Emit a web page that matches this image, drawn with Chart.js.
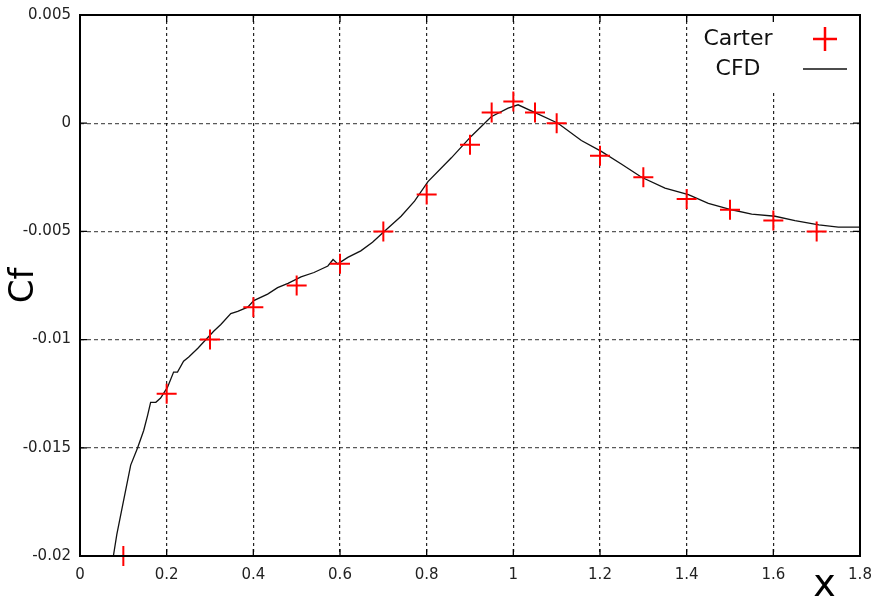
<!DOCTYPE html>
<html lang="en">
<head>
    <meta charset="UTF-8">
    <title>Cf vs x</title>
    <script src="https://cdn.jsdelivr.net/npm/chart.js"></script>
    <style>
        html, body { margin: 0; padding: 0; background: #fff; }
        #wrap { width: 879px; height: 596px; }
    </style>
</head>
<body>
    <div id="wrap"><canvas id="cfChart" width="879" height="596"></canvas></div>

    <script>
        // tick labels
        const xTicks = [0, 0.2, 0.4, 0.6, 0.8, 1, 1.2, 1.4, 1.6, 1.8];
        const yTicks = [0.005, 0, -0.005, -0.01, -0.015, -0.02];

        // Carter (experiment)
        const carterX = [0.1, 0.2, 0.3, 0.4, 0.5, 0.6, 0.7, 0.8, 0.9, 0.95, 1.0, 1.05, 1.1, 1.2, 1.3, 1.4, 1.5, 1.6, 1.7];
        const carterY = [-0.02, -0.0125, -0.01, -0.0085, -0.0075, -0.0065, -0.005, -0.0033, -0.001, 0.0005, 0.001, 0.0005, 0, -0.0015, -0.0025, -0.0035, -0.004, -0.0045, -0.005];

        // CFD curve
        const cfdX = [0.077, 0.085, 0.098, 0.117, 0.133, 0.147, 0.156, 0.163, 0.175, 0.186, 0.202, 0.216, 0.225, 0.239, 0.251,
                      0.272, 0.295, 0.309, 0.325, 0.348, 0.364, 0.387, 0.401, 0.433, 0.456, 0.480, 0.510, 0.540, 0.572, 0.584,
                      0.595, 0.618, 0.648, 0.675, 0.702, 0.741, 0.772, 0.803, 0.857, 0.903, 0.949, 0.988, 1.011, 1.049, 1.103,
                      1.157, 1.203, 1.25, 1.296, 1.35, 1.404, 1.45, 1.504, 1.55, 1.604, 1.65, 1.705, 1.75, 1.8];
        const cfdY = [-0.0200, -0.0190, -0.0177, -0.0158, -0.0150, -0.0142, -0.0135, -0.0129, -0.0129, -0.0127, -0.0122, -0.0115, -0.0115, -0.0110, -0.0108,
                      -0.0104, -0.0099, -0.0096, -0.0093, -0.0088, -0.0087, -0.0085, -0.0082, -0.0079, -0.0076, -0.0074, -0.0071, -0.0069, -0.0066, -0.0063,
                      -0.0065, -0.0062, -0.0059, -0.0055, -0.0050, -0.0043, -0.0036, -0.0027, -0.0016, -0.0006, 0.0003, 0.0007, 0.00085, 0.0005, 0.0,
                      -0.0008, -0.0013, -0.0019, -0.0025, -0.0030, -0.0033, -0.0037, -0.0040, -0.0042, -0.0043, -0.0045, -0.0047, -0.0048, -0.0048];

        const FONT = "'DejaVu Sans', sans-serif";

        // frame, inward ticks, legend, x title
        const decor = {
            id: 'decor',
            afterDatasetsDraw(chart) {
                const {ctx, chartArea: a, scales: {x, y}} = chart;
                ctx.save();
                // white legend box (hides the 1.6 gridline at the top)
                ctx.fillStyle = '#fff';
                ctx.fillRect(x.getPixelForValue(1.545), a.top + 1, a.right - x.getPixelForValue(1.545) - 1, 74);

                ctx.strokeStyle = '#000';
                ctx.lineWidth = 1.3;
                ctx.beginPath();
                xTicks.forEach(v => {
                    const px = x.getPixelForValue(v);
                    ctx.moveTo(px, a.bottom); ctx.lineTo(px, a.bottom - 7);
                    ctx.moveTo(px, a.top); ctx.lineTo(px, a.top + 7);
                });
                yTicks.forEach(v => {
                    const py = y.getPixelForValue(v);
                    ctx.moveTo(a.left, py); ctx.lineTo(a.left + 7, py);
                    ctx.moveTo(a.right, py); ctx.lineTo(a.right - 7, py);
                });
                ctx.stroke();

                ctx.lineWidth = 2;
                ctx.strokeRect(a.left, a.top, a.right - a.left, a.bottom - a.top);

                // legend
                const ds = chart.data.datasets;
                ctx.font = '22px ' + FONT;
                ctx.fillStyle = '#111';
                ctx.textAlign = 'center';
                ctx.textBaseline = 'middle';
                const tx = 738, sx = 825;
                ctx.fillText(ds[0].label, tx, a.top + 24);
                ctx.fillText(ds[1].label, tx, a.top + 54);
                ctx.strokeStyle = '#ff0000';
                ctx.lineWidth = 2.5;
                ctx.beginPath();
                ctx.moveTo(sx - 12, a.top + 24); ctx.lineTo(sx + 12, a.top + 24);
                ctx.moveTo(sx, a.top + 12); ctx.lineTo(sx, a.top + 36);
                ctx.stroke();
                ctx.strokeStyle = '#111';
                ctx.lineWidth = 1.5;
                ctx.beginPath();
                ctx.moveTo(sx - 22, a.top + 54); ctx.lineTo(sx + 22, a.top + 54);
                ctx.stroke();

                // x axis title
                ctx.font = '38px ' + FONT;
                ctx.fillStyle = '#000';
                ctx.textBaseline = 'alphabetic';
                ctx.fillText('x', x.getPixelForValue(1.718), 596);
                ctx.restore();
            }
        };

        const ctx = document.getElementById('cfChart').getContext('2d');
        const cfChart = new Chart(ctx, {
            type: 'scatter',
            data: {
                datasets: [{
                    label: 'Carter',
                    data: carterX.map((v, i) => ({x: v, y: carterY[i]})),
                    pointStyle: 'cross',
                    pointRadius: 10,
                    pointHoverRadius: 10,
                    borderColor: '#ff0000',
                    backgroundColor: '#ff0000',
                    borderWidth: 2,
                    clip: false,
                    order: 0
                }, {
                    label: 'CFD',
                    data: cfdX.map((v, i) => ({x: v, y: cfdY[i]})),
                    showLine: true,
                    pointRadius: 0,
                    borderColor: '#111',
                    borderWidth: 1.3,
                    tension: 0,
                    order: 1
                }]
            },
            options: {
                responsive: false,
                animation: false,
                layout: { padding: { top: 15, right: 19, left: 0, bottom: 0 } },
                plugins: { legend: { display: false }, tooltip: { enabled: false } },
                scales: {
                    x: {
                        type: 'linear',
                        min: 0, max: 1.8,
                        afterBuildTicks: s => { s.ticks = xTicks.map(v => ({value: v})); },
                        afterFit: s => { s.height = 40; s.paddingLeft = 0; s.paddingRight = 0; },
                        grid: { color: 'rgba(0,0,0,0.85)', lineWidth: 1.2, drawTicks: false },
                        border: { display: false, dash: [3, 3] },
                        ticks: {
                            padding: 10,
                            color: '#222',
                            font: { family: FONT, size: 15 },
                            maxRotation: 0,
                            callback: v => String(v)
                        }
                    },
                    y: {
                        type: 'linear',
                        min: -0.02, max: 0.005,
                        afterBuildTicks: s => { s.ticks = yTicks.map(v => ({value: v})); },
                        afterFit: s => { s.width = 80; s.paddingTop = 0; s.paddingBottom = 0; },
                        grid: { color: 'rgba(0,0,0,0.65)', lineWidth: 1.2, drawTicks: false },
                        border: { display: false, dash: [4, 3] },
                        title: {
                            display: true,
                            text: 'Cf',
                            color: '#000',
                            font: { family: FONT, size: 34 },
                            padding: { top: 4, bottom: 0 }
                        },
                        ticks: {
                            padding: 9,
                            color: '#222',
                            font: { family: FONT, size: 15 },
                            callback: v => String(v)
                        }
                    }
                }
            },
            plugins: [decor]
        });
    </script>
</body>
</html>
